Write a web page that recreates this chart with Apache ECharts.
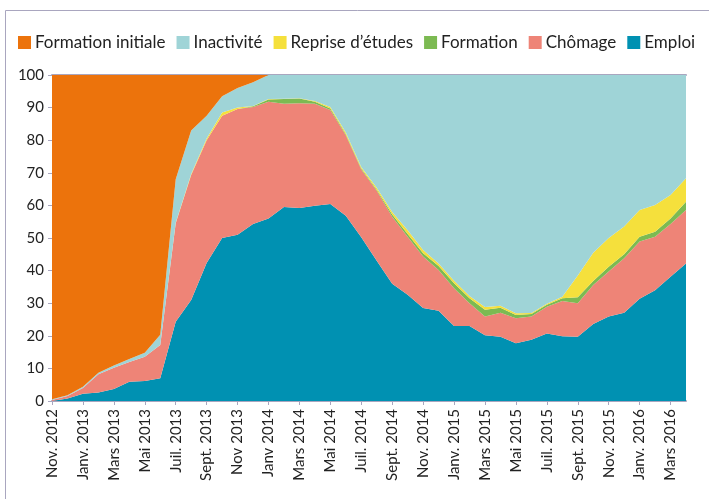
<!DOCTYPE html>
<html>
<head>
<meta charset="utf-8">
<script src="https://cdn.jsdelivr.net/npm/echarts@6/dist/echarts.min.js"></script>
<style>
  html, body { margin: 0; padding: 0; background: #fff; }
  #chart { width: 709px; height: 499px; }
</style>
</head>
<body>
<div id="chart"></div>
<script>
// mois, de Nov. 2012 à Avr. 2016
var mois = ['Nov. 2012', 'Déc. 2012', 'Janv. 2013', 'Févr. 2013', 'Mars 2013', 'Avr. 2013',
    'Mai 2013', 'Juin 2013', 'Juil. 2013', 'Août 2013', 'Sept. 2013', 'Oct. 2013',
    'Nov 2013', 'Déc. 2013', 'Janv 2014', 'Févr. 2014', 'Mars 2014', 'Avr. 2014',
    'Mai 2014', 'Juin 2014', 'Juil. 2014', 'Août 2014', 'Sept. 2014', 'Oct. 2014',
    'Nov. 2014', 'Déc. 2014', 'Janv. 2015', 'Févr. 2015', 'Mars 2015', 'Avr. 2015',
    'Mai 2015', 'Juin 2015', 'Juil. 2015', 'Août 2015', 'Sept. 2015', 'Oct. 2015',
    'Nov. 2015', 'Déc. 2015', 'Janv. 2016', 'Févr. 2016', 'Mars 2016', 'Avr. 2016'];

var emploi = [0, 0.8, 2.2, 2.6, 3.7, 5.9, 6.1, 7, 24.3, 31, 42.3, 50, 51, 54.3, 56, 59.5,
    59.2, 59.9, 60.4, 56.8, 50.2, 43, 36, 32.6, 28.5, 27.7, 23, 23, 20.2, 19.7, 17.7, 18.8,
    20.7, 19.9, 19.7, 23.6, 25.9, 27.1, 31.4, 34, 38.1, 42.2];
var chomage = [0.3, 0.7, 1.8, 5.6, 6.5, 6.1, 7.5, 10.2, 30.2, 38.3, 37.7, 37.5, 38.6, 35.9,
    35.8, 31.7, 32.1, 31.3, 28.9, 24.7, 20.8, 21.5, 20.5, 17.8, 15.8, 12.5, 11.6, 7, 5.7, 7.4,
    7.7, 7.1, 8.2, 10.8, 10.3, 12, 13.8, 16.7, 17.5, 16.4, 16.2, 16.4];
var formation = [0, 0, 0, 0, 0, 0, 0, 0, 0, 0, 0, 0, 0, 0.2, 0.7, 1.4, 1.5, 0.6, 0.4, 0.3,
    0.3, 0.3, 0.7, 0.8, 1, 1.2, 1.5, 1.5, 2.1, 1.5, 1, 0.8, 0.6, 0.8, 1.8, 1.2, 1.5, 1.2, 1.5,
    1.5, 1.7, 2.5];
var reprise = [0, 0, 0, 0, 0, 0, 0, 0, 0.2, 0.3, 0.5, 1, 0.4, 0.1, 0.1, 0.1, 0.1, 0.2, 0.5,
    0.6, 0.5, 0.6, 0.8, 1.2, 1, 0.8, 0.8, 0.7, 0.8, 0.6, 0.5, 0.3, 0.3, 0.5, 6.7, 8.7, 8.8,
    8.5, 8.2, 8.2, 7.2, 7.2];
var inactivite = [0.2, 0.3, 0.4, 0.5, 0.7, 0.9, 1.2, 3.1, 13.3, 13.4, 7, 5, 6, 7.3, 7.4,
    7.3, 7.1, 8, 9.8, 17.6, 28.2, 34.6, 42, 47.6, 53.7, 57.8, 63.1, 67.8, 71.2, 70.8, 73.1,
    73, 70.2, 68, 61.5, 54.5, 50, 46.5, 41.4, 39.9, 36.8, 31.7];
var formationInitiale = [99.5, 98.2, 95.6, 91.3, 89.1, 87.1, 85.2, 79.7, 32, 17, 12.5, 6.5,
    4, 2.2, 0, 0, 0, 0, 0, 0, 0, 0, 0, 0, 0, 0, 0, 0, 0, 0, 0, 0, 0, 0, 0, 0, 0, 0, 0, 0, 0, 0];

var chart = echarts.init(document.getElementById('chart'));

function aire(nom, data, couleur) {
    return {
        name: nom,
        type: 'line',
        stack: 'total',
        data: data,
        showSymbol: false,
        lineStyle: { width: 0 },
        areaStyle: { color: couleur, opacity: 1 },
        itemStyle: { color: couleur }
    };
}

var gris = '#a9a6bf';

var option = {
    animation: false,
    textStyle: { fontFamily: 'Lato' },
    graphic: [{
        type: 'rect',
        shape: { x: 5.5, y: 10.5, width: 720, height: 510 },
        style: { fill: 'none', stroke: gris, lineWidth: 1 }
    }],
    legend: {
        top: 34,
        left: 18,
        width: 691,
        padding: 0,
        itemWidth: 13,
        itemHeight: 13,
        itemGap: 11,
        icon: 'rect',
        textStyle: { fontSize: 17, color: '#222', padding: [0, 0, 0, -1] },
        data: ['Formation initiale', 'Inactivité', 'Reprise d’études', 'Formation', 'Chômage', 'Emploi']
    },
    grid: { left: 52, right: 23, top: 75, bottom: 98 },
    xAxis: [{
        type: 'category',
        boundaryGap: false,
        data: mois,
        axisLine: { lineStyle: { color: gris, width: 2 } },
        axisTick: { interval: 1, length: 4, lineStyle: { color: gris } },
        axisLabel: { interval: 1, rotate: 90, fontSize: 15, color: '#222', margin: 8 },
        splitLine: { show: false }
    }, {
        type: 'category',
        position: 'top',
        boundaryGap: false,
        data: mois,
        axisLine: { lineStyle: { color: gris, width: 2 } },
        axisTick: { show: false },
        axisLabel: { show: false }
    }],
    yAxis: {
        type: 'value',
        min: 0,
        max: 100,
        interval: 10,
        axisLine: { show: true, lineStyle: { color: gris } },
        axisTick: { show: true, length: 4, lineStyle: { color: gris } },
        axisLabel: { fontSize: 15, color: '#222', margin: 8 },
        splitLine: { show: false }
    },
    series: [
        aire('Emploi', emploi, '#0091b2'),
        aire('Chômage', chomage, '#ee8477'),
        aire('Formation', formation, '#7cba52'),
        aire('Reprise d’études', reprise, '#f5e03c'),
        aire('Inactivité', inactivite, '#9fd4d7'),
        aire('Formation initiale', formationInitiale, '#ec730c')
    ]
};

chart.setOption(option);
</script>
</body>
</html>
